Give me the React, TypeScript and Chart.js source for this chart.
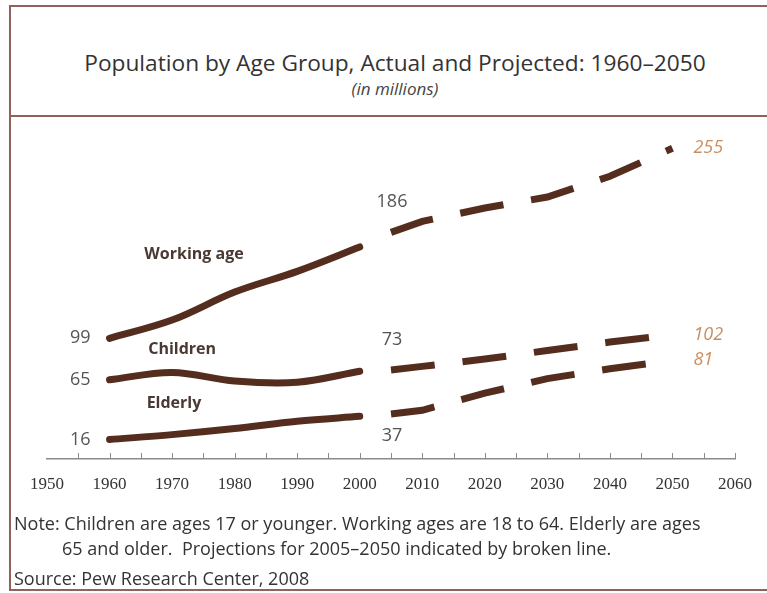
import { useEffect, useRef } from 'react';
import { Chart, registerables, type Plugin } from 'chart.js';

Chart.register(...registerables);

// actual values (solid), in millions
const actualYears = [1960, 1970, 1980, 1990, 2000];
const workingActual = [99, 114, 137, 154, 174];
const childrenActual = [65, 71, 64, 63, 72];
const elderlyActual = [16, 20, 25, 31, 35];

// projections (broken line)
const projectedYears = [2005, 2010, 2020, 2030, 2040, 2050];
const workingProjected = [186, 195, 206, 215, 232, 255];
const childrenProjected = [73, 76, 82, 89, 96, 102];
const elderlyProjected = [37, 40, 54, 66, 74, 81];

const tickYears = [1950, 1960, 1970, 1980, 1990, 2000, 2010, 2020, 2030, 2040, 2050, 2060];

const groupNames = ['Working age', 'Children', 'Elderly'];
// where the group names sit, in [year, millions]
const groupNameAt: [number, number][] = [
  [1973.5, 168],
  [1971.6, 90],
  [1970.3, 46],
];

const LINE = '#552d1e';
const FRAME = '#8f625b';

const toPoints = (years: number[], vals: number[]) =>
  years.map((x, i) => ({ x, y: vals[i] }));

const groups = [
  { actual: workingActual, projected: workingProjected, midBelow: false },
  { actual: childrenActual, projected: childrenProjected, midBelow: false },
  { actual: elderlyActual, projected: elderlyProjected, midBelow: true },
];

const labelPlugin: Plugin<'line'> = {
  id: 'labels',
  afterDatasetsDraw(chart) {
    const { ctx } = chart;
    const xs = chart.scales.x;
    const ys = chart.scales.y;
    ctx.save();

    // upward ticks every 5 years
    ctx.strokeStyle = '#8a8a8a';
    ctx.lineWidth = 1;
    const base = ys.getPixelForValue(0);
    for (let yr = 1955; yr <= 2060; yr += 5) {
      const px = Math.round(xs.getPixelForValue(yr)) + 0.5;
      ctx.beginPath();
      ctx.moveTo(px, base);
      ctx.lineTo(px, base - 6);
      ctx.stroke();
    }

    ctx.textBaseline = 'middle';
    groups.forEach((g, i) => {
      const first = g.actual[0];
      const mid = g.projected[0];
      const last = g.projected[g.projected.length - 1];

      ctx.font = '18px "Open Sans", sans-serif';
      ctx.fillStyle = '#555';
      ctx.textAlign = 'right';
      ctx.fillText(String(first), xs.getPixelForValue(actualYears[0]) - 19, ys.getPixelForValue(first));

      ctx.textAlign = 'center';
      const my = ys.getPixelForValue(mid) + (g.midBelow ? 22 : -30);
      ctx.fillText(String(mid), xs.getPixelForValue(projectedYears[0]) + 1, my);

      ctx.font = 'italic 18px "Open Sans", sans-serif';
      ctx.fillStyle = '#c98e60';
      ctx.textAlign = 'left';
      ctx.fillText(
        String(last),
        xs.getPixelForValue(projectedYears[projectedYears.length - 1]) + 21,
        ys.getPixelForValue(last)
      );

      ctx.font = 'bold 16px "Open Sans", sans-serif';
      ctx.fillStyle = '#4a3832';
      ctx.textAlign = 'center';
      const [gx, gy] = groupNameAt[i];
      ctx.fillText(groupNames[i], xs.getPixelForValue(gx), ys.getPixelForValue(gy));
    });
    ctx.restore();
  },
};

export default function App() {
  const canvas = useRef<HTMLCanvasElement>(null);

  useEffect(() => {
    const current = canvas.current;
    if (!current) return;

    const solid = (vals: number[]) => ({
      data: toPoints(actualYears, vals),
      borderColor: LINE,
      borderWidth: 7,
      borderCapStyle: 'round' as const,
      tension: 0.35,
      pointRadius: 0,
    });
    const broken = (vals: number[]) => ({
      data: toPoints(projectedYears, vals),
      borderColor: LINE,
      borderWidth: 7,
      borderDash: [44, 28],
      borderCapStyle: 'butt' as const,
      tension: 0,
      pointRadius: 0,
    });

    const chart = new Chart(current, {
      type: 'line',
      data: {
        datasets: [
          solid(workingActual),
          broken(workingProjected),
          solid(childrenActual),
          broken(childrenProjected),
          solid(elderlyActual),
          broken(elderlyProjected),
        ],
      },
      options: {
        responsive: false,
        animation: false,
        layout: { padding: { left: 47, right: 28, top: 130, bottom: 94 } },
        plugins: {
          legend: { display: false },
          tooltip: { enabled: false },
        },
        scales: {
          x: {
            type: 'linear',
            min: tickYears[0],
            max: tickYears[tickYears.length - 1],
            afterBuildTicks: (scale) => {
              scale.ticks = tickYears.map((value) => ({ value }));
            },
            afterFit: (scale) => {
              scale.height = 40;
            },
            grid: { display: false, drawTicks: false },
            border: { display: true, color: '#8a8a8a', width: 1.5 },
            ticks: {
              padding: 15,
              color: '#333',
              font: { family: '"Liberation Serif", serif', size: 17 },
              callback: (v) => String(v),
              maxRotation: 0,
              autoSkip: false,
            },
          },
          y: {
            display: false,
            min: 0,
            max: 270,
          },
        },
      },
      plugins: [labelPlugin],
    });

    return () => chart.destroy();
  }, []);

  return (
    <div
      style={{
        position: 'absolute',
        left: 0,
        top: 0,
        width: 767,
        height: 593,
        overflow: 'hidden',
        background: '#fff',
        fontFamily: '"Open Sans", sans-serif',
        color: '#333',
      }}
    >
      <div
        style={{
          position: 'absolute',
          left: 9,
          top: 5,
          width: 800,
          height: 586,
          boxSizing: 'border-box',
          border: `2px solid ${FRAME}`,
        }}
      />
      <div style={{ position: 'absolute', left: 9, top: 115, width: 800, height: 2, background: FRAME }} />
      <div
        style={{
          position: 'absolute',
          left: 0,
          width: 790,
          top: 47,
          textAlign: 'center',
          fontSize: 22.7,
          lineHeight: '32px',
        }}
      >
        Population by Age Group, Actual and Projected: 1960–2050
      </div>
      <div
        style={{
          position: 'absolute',
          left: 0,
          width: 790,
          top: 78,
          textAlign: 'center',
          fontSize: 17,
          fontStyle: 'italic',
          lineHeight: '22px',
          color: '#444',
        }}
      >
        (in millions)
      </div>
      <canvas ref={canvas} width={767} height={593} style={{ position: 'absolute', left: 0, top: 0 }} />
      <div style={{ position: 'absolute', left: 14, top: 510, fontSize: 18, lineHeight: '26px' }}>
        Note: Children are ages 17 or younger. Working ages are 18 to 64. Elderly are ages
      </div>
      <div style={{ position: 'absolute', left: 62, top: 535, fontSize: 18, lineHeight: '26px' }}>
        65 and older.&nbsp; Projections for 2005–2050 indicated by broken line.
      </div>
      <div style={{ position: 'absolute', left: 14, top: 565, fontSize: 18, lineHeight: '26px' }}>
        Source: Pew Research Center, 2008
      </div>
    </div>
  );
}
